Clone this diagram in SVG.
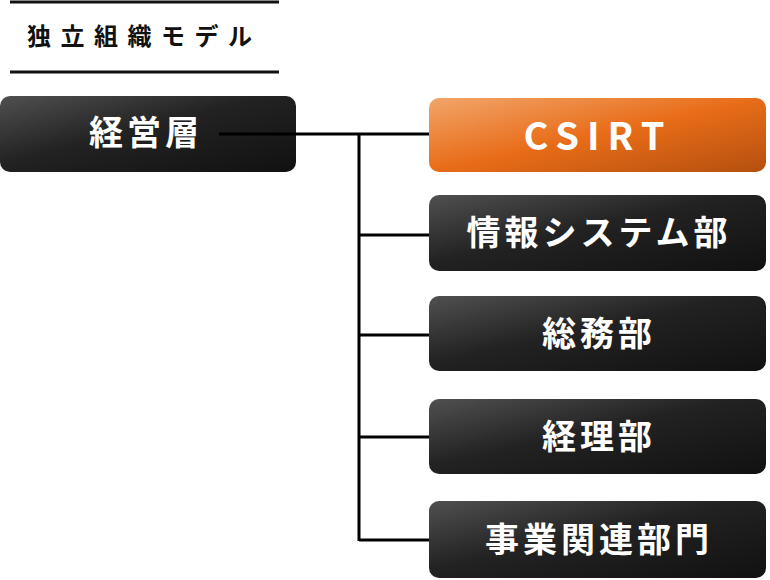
<svg xmlns="http://www.w3.org/2000/svg" width="770" height="580" viewBox="0 0 770 580">
<defs>
<linearGradient id="dark" x1="0" y1="0" x2="1" y2="1">
<stop offset="0" stop-color="#505050"/>
<stop offset="0.45" stop-color="#222"/>
<stop offset="1" stop-color="#111"/>
</linearGradient>
<linearGradient id="orange" x1="0" y1="0" x2="1" y2="1">
<stop offset="0" stop-color="#f2a56a"/>
<stop offset="0.5" stop-color="#e86c18"/>
<stop offset="1" stop-color="#b4500f"/>
</linearGradient>
<style>
.box{fill:url(#dark);}
.lbl{font-family:"Noto Sans CJK JP","Noto Sans",sans-serif;font-weight:700;font-size:34px;fill:#fff;text-anchor:middle;letter-spacing:4px;}
.conn{stroke:#000;stroke-width:3;fill:none;}
.rule{stroke:#111;stroke-width:3;}
</style>
</defs>
<g id="title">
<line class="rule" x1="10" y1="2" x2="279" y2="2"/>
<line class="rule" x1="10" y1="72" x2="279" y2="72"/>
<text x="27" y="45" font-family="'Noto Sans CJK JP','Noto Sans',sans-serif" font-weight="700" font-size="24" letter-spacing="9.5" fill="#111">独立組織モデル</text>
</g>
<g id="mgmt">
<rect class="box" x="0" y="96" width="296" height="76" rx="10"/>
<text class="lbl" x="146" y="145">経営層</text>
</g>
<g id="csirt">
<rect x="429" y="98" width="337" height="74" rx="10" fill="url(#orange)"/>
<text class="lbl" x="598" y="150" style="font-size:38px;letter-spacing:8px">CSIRT</text>
</g>
<g id="infosys">
<rect class="box" x="429" y="195" width="337" height="76" rx="10"/>
<text class="lbl" x="599" y="245">情報システム部</text>
</g>
<g id="general">
<rect class="box" x="429" y="296" width="337" height="75" rx="10"/>
<text class="lbl" x="599" y="346">総務部</text>
</g>
<g id="accounting">
<rect class="box" x="429" y="399" width="337" height="75" rx="10"/>
<text class="lbl" x="599" y="449">経理部</text>
</g>
<g id="business">
<rect class="box" x="429" y="501" width="337" height="77" rx="10"/>
<text class="lbl" x="599" y="552">事業関連部門</text>
</g>
<g id="connectors">
<path class="conn" d="M219 134 H429 M359 134 V541 M359 235 H429 M359 335 H429 M359 437 H429 M359 540 H429"/>
</g>
</svg>
